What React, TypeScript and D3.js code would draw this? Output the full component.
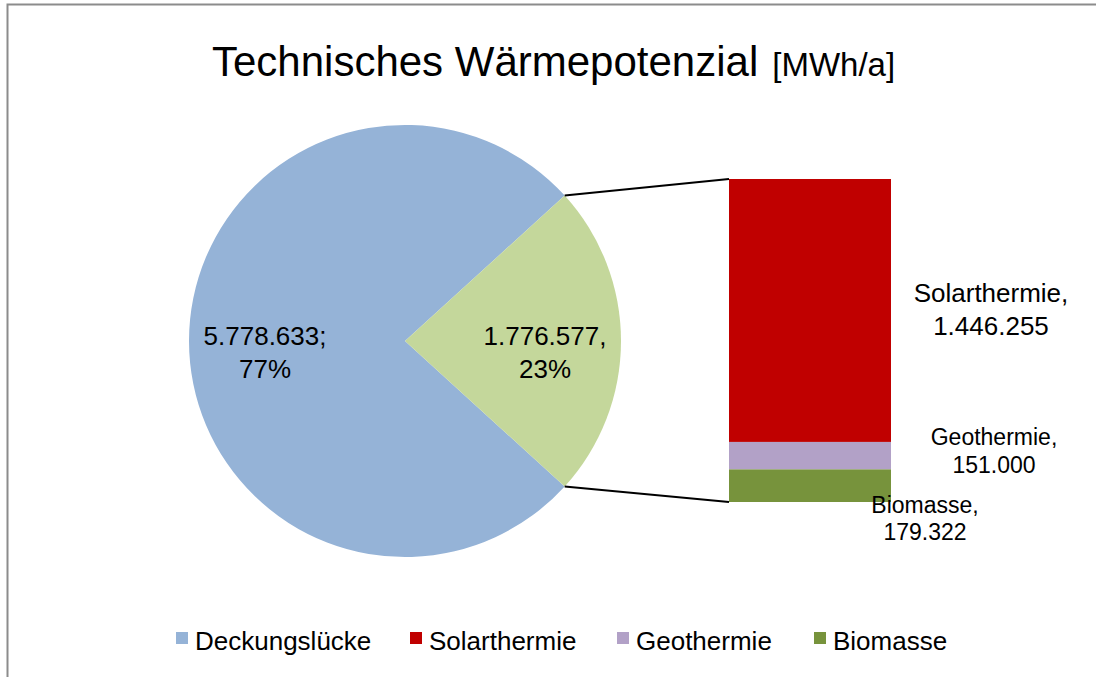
import * as d3 from "d3";

// pie: coverage gap vs. technical potential
const pieCategories = ["Deckungslücke", "Potenzial"];
const pieValues = [5778633, 1776577];
const pieLabels = [
  ["5.778.633;", "77%"],
  ["1.776.577,", "23%"],
];

// bar of pie: breakdown of the potential, top to bottom
const barCategories = ["Solarthermie", "Geothermie", "Biomasse"];
const barValues = [1446255, 151000, 179322];
const barLabels = [
  ["Solarthermie,", "1.446.255"],
  ["Geothermie,", "151.000"],
  ["Biomasse,", "179.322"],
];

const legendItems = ["Deckungslücke", "Solarthermie", "Geothermie", "Biomasse"];

const colors: Record<string, string> = {
  Deckungslücke: "#95b3d7",
  Potenzial: "#c4d79b",
  Solarthermie: "#c00000",
  Geothermie: "#b2a1c7",
  Biomasse: "#77933c",
};

const font = "'Liberation Sans', Arial, sans-serif";

export default function App() {
  const width = 1096;
  const height = 677;

  const cx = 405;
  const cy = 341;
  const radius = 216;

  const total = d3.sum(pieValues);
  const smallAngle = (2 * Math.PI * pieValues[1]) / total;
  const start = Math.PI / 2 + smallAngle / 2;

  const pie = d3
    .pie<number>()
    .sort(null)
    .startAngle(start)
    .endAngle(start + 2 * Math.PI);
  const arcs = pie(pieValues);

  const arc = d3.arc<d3.PieArcDatum<number>>().innerRadius(0).outerRadius(radius);
  const labelArc = d3.arc<d3.PieArcDatum<number>>().innerRadius(140).outerRadius(140);

  // bar
  const barX = 729;
  const barW = 162;
  const barTotal = d3.sum(barValues);
  const yScale = d3.scaleLinear().domain([0, barTotal]).range([502, 179]);

  // stack from bottom: last category sits at the bottom
  const segments: { name: string; y0: number; y1: number }[] = [];
  let acc = 0;
  for (let i = barValues.length - 1; i >= 0; i--) {
    segments.unshift({ name: barCategories[i], y0: acc, y1: acc + barValues[i] });
    acc += barValues[i];
  }

  // connector lines from the small slice edges to the bar corners
  const a0 = arcs[1].startAngle;
  const a1 = arcs[1].endAngle;
  const p0: [number, number] = [cx + radius * Math.sin(a0), cy - radius * Math.cos(a0)];
  const p1: [number, number] = [cx + radius * Math.sin(a1), cy - radius * Math.cos(a1)];

  const barLabelPos = [
    { x: 991, y: 302, size: 26, lh: 33 },
    { x: 994, y: 445, size: 23, lh: 28 },
    { x: 925, y: 513, size: 23, lh: 27 },
  ];

  const legendX = [176, 410, 617, 814];

  return (
    <div style={{ position: "absolute", left: 0, top: 0 }}>
      <svg width={width} height={height} style={{ display: "block" }}>
        <rect x={0} y={0} width={width} height={height} fill="#ffffff" />
        <rect
          x={7.5}
          y={4.5}
          width={width + 20}
          height={height + 20}
          fill="none"
          stroke="#8c8c8c"
          strokeWidth={2}
        />

        <text x={212} y={76} fontFamily={font} fontSize={42} fill="#000">
          Technisches Wärmepotenzial
          <tspan dx={14} fontSize={33}>
            [MWh/a]
          </tspan>
        </text>

        <g transform={`translate(${cx}, ${cy})`}>
          {arcs.map((d, i) => (
            <path key={pieCategories[i]} d={arc(d) ?? ""} fill={colors[pieCategories[i]]} />
          ))}
          {arcs.map((d, i) => {
            const [lx, ly] = labelArc.centroid(d);
            return (
              <text
                key={`lbl-${i}`}
                x={lx}
                textAnchor="middle"
                fontFamily={font}
                fontSize={26}
                fill="#000"
              >
                <tspan x={lx} y={ly + 4}>
                  {pieLabels[i][0]}
                </tspan>
                <tspan x={lx} y={ly + 37}>
                  {pieLabels[i][1]}
                </tspan>
              </text>
            );
          })}
        </g>

        <line x1={p0[0]} y1={p0[1]} x2={barX} y2={yScale(barTotal)} stroke="#000" strokeWidth={2} />
        <line x1={p1[0]} y1={p1[1]} x2={barX} y2={yScale(0)} stroke="#000" strokeWidth={2} />

        {segments.map((s) => (
          <rect
            key={s.name}
            x={barX}
            y={yScale(s.y1)}
            width={barW}
            height={yScale(s.y0) - yScale(s.y1)}
            fill={colors[s.name]}
          />
        ))}

        {barLabels.map((lines, i) => {
          const p = barLabelPos[i];
          return (
            <text key={`bl-${i}`} textAnchor="middle" fontFamily={font} fontSize={p.size} fill="#000">
              <tspan x={p.x} y={p.y}>
                {lines[0]}
              </tspan>
              <tspan x={p.x} y={p.y + p.lh}>
                {lines[1]}
              </tspan>
            </text>
          );
        })}

        {legendItems.map((name, i) => (
          <g key={name} transform={`translate(${legendX[i]}, 632)`}>
            <rect x={0} y={0} width={12} height={12} fill={colors[name]} />
            <text x={19} y={18} fontFamily={font} fontSize={26} fill="#000">
              {name}
            </text>
          </g>
        ))}
      </svg>
    </div>
  );
}
